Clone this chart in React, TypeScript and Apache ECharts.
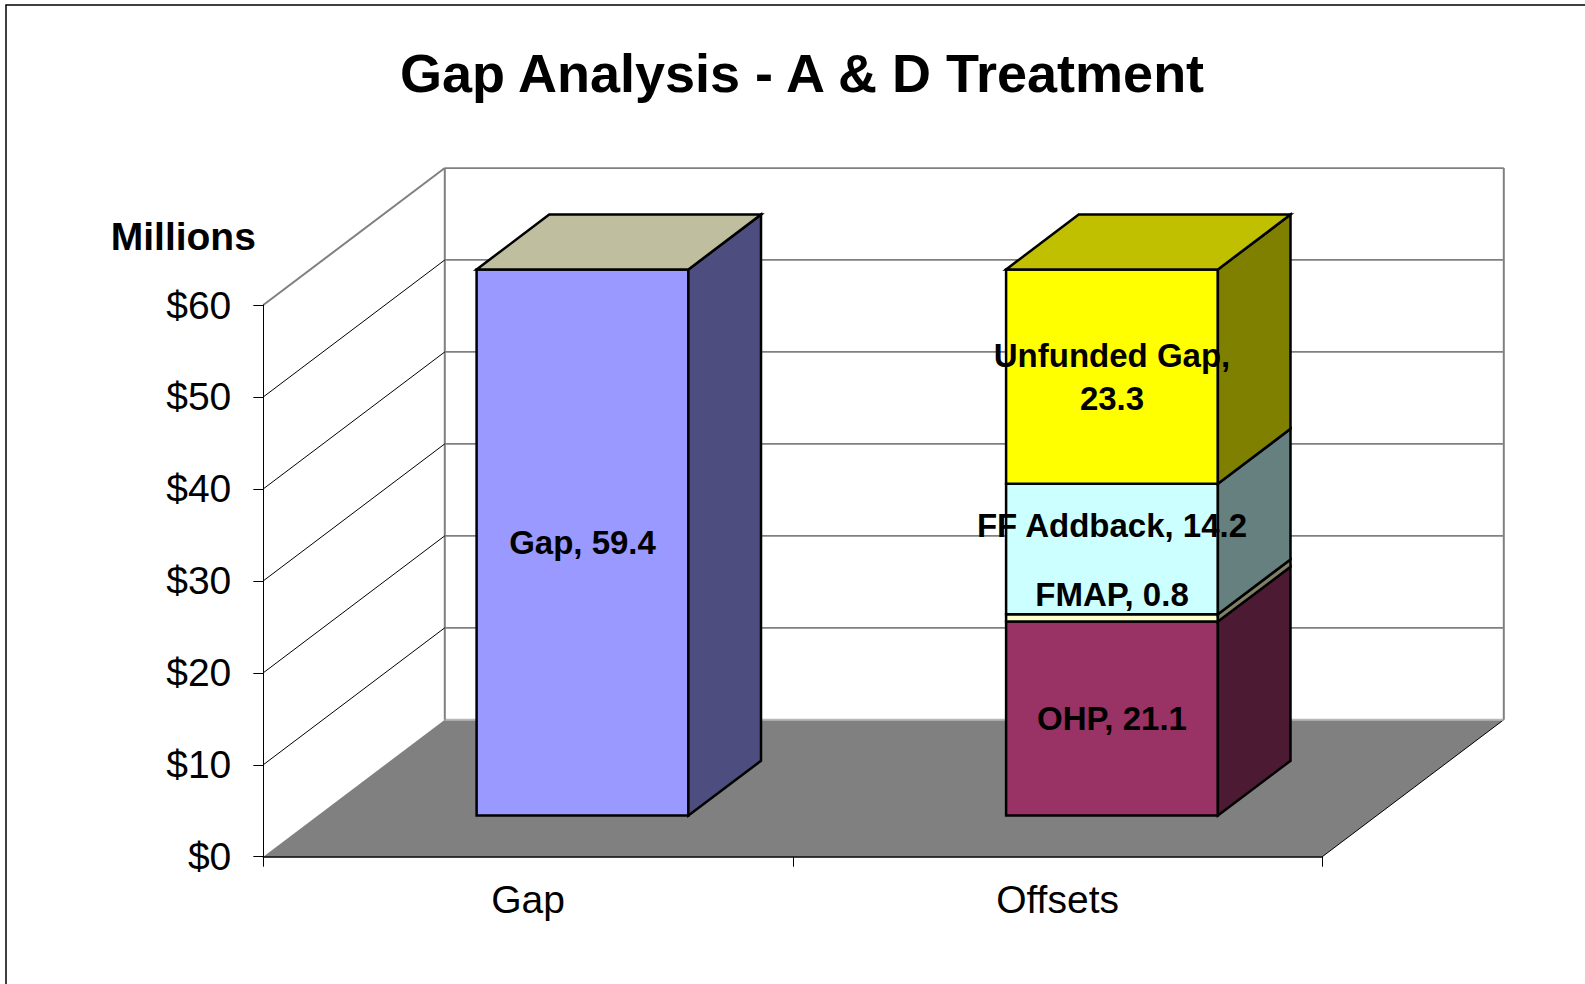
import React, { useEffect, useRef } from 'react';
import * as echarts from 'echarts';

const titleText = 'Gap Analysis - A & D Treatment';
const unitLabel = 'Millions';
const categories = ['Gap', 'Offsets'];
const yTicks = [0, 10, 20, 30, 40, 50, 60];
const segmentNames = ['Gap', 'OHP', 'FMAP', 'FF Addback', 'Unfunded Gap'];
const gapValues = [59.4, 0];
const ohpValues = [0, 21.1];
const fmapValues = [0, 0.8];
const ffAddbackValues = [0, 14.2];
const unfundedGapValues = [0, 23.3];

const segmentValues = [gapValues, ohpValues, fmapValues, ffAddbackValues, unfundedGapValues];

const segmentStyles = [
  { front: '#9999FF', side: '#4D4D80', top: '#BFBF9F', labelDy: 0, wrap: false },
  { front: '#993366', side: '#4D1A33', top: '#732650', labelDy: 0, wrap: false },
  { front: '#FFFFCC', side: '#808066', top: '#BFBF99', labelDy: -23, wrap: false },
  { front: '#CCFFFF', side: '#668080', top: '#99BFBF', labelDy: -23, wrap: false },
  { front: '#FFFF00', side: '#808000', top: '#C0C000', labelDy: 0, wrap: true },
];

const FONT = '"Liberation Sans", Arial, Helvetica, sans-serif';
const DX = 181.5;
const DY = -137;
const D0 = 0.3;
const D1 = 0.7;
const BAR_RATIO = 0.4;

const P = (x: number, y: number, d: number) => [x + d * DX, y + d * DY];

// stacked items: [categoryIndex, base, top, segmentIndex, isTop, value]
const barItems: number[][] = [];
categories.forEach((_c, ci) => {
  let base = 0;
  const items: number[][] = [];
  segmentValues.forEach((vals, si) => {
    const v = vals[ci];
    if (v > 0) {
      items.push([ci, base, base + v, si, 0, v]);
      base += v;
    }
  });
  if (items.length) items[items.length - 1][4] = 1;
  barItems.push(...items);
});

export default function App() {
  const ref = useRef<HTMLDivElement>(null);
  useEffect(() => {
    if (!ref.current) return;
    const chart = echarts.init(ref.current, undefined, { renderer: 'svg' });
    const lastTick = yTicks[yTicks.length - 1];

    const wallsSeries = {
      type: 'custom',
      z: 1,
      silent: true,
      clip: false,
      data: yTicks.map((v) => [0, v]),
      renderItem: (params: any, api: any) => {
        const v = api.value(1);
        const band = api.size([1, 0])[0];
        const p0 = api.coord([0, v]);
        const pl = api.coord([categories.length - 1, v]);
        const L = p0[0] - band / 2;
        const R = pl[0] + band / 2;
        const y = p0[1];
        const yTop = api.coord([0, lastTick])[1];
        const children: any[] = [];
        if (params.dataIndex === 0) {
          children.push({
            type: 'polygon',
            shape: { points: [[L, y], [R, y], [R + DX, y + DY], [L + DX, y + DY]] },
            style: { fill: '#808080' },
          });
          children.push({
            type: 'line',
            shape: { x1: R, y1: y, x2: R + DX, y2: y + DY },
            style: { stroke: '#000', lineWidth: 1 },
          });
          children.push({
            type: 'line',
            shape: { x1: L + DX, y1: y + DY, x2: R + DX, y2: y + DY },
            style: { stroke: '#B8B8B8', lineWidth: 2 },
          });
          children.push({
            type: 'line',
            shape: { x1: L + DX, y1: y + DY, x2: L + DX, y2: yTop + DY },
            style: { stroke: '#808080', lineWidth: 2 },
          });
          children.push({
            type: 'line',
            shape: { x1: R + DX, y1: y + DY, x2: R + DX, y2: yTop + DY },
            style: { stroke: '#808080', lineWidth: 2 },
          });
        } else {
          const isLast = v === lastTick;
          children.push({
            type: 'line',
            shape: { x1: L + DX, y1: y + DY, x2: R + DX, y2: y + DY },
            style: { stroke: '#808080', lineWidth: 1.75 },
          });
          children.push({
            type: 'line',
            shape: { x1: L, y1: y, x2: L + DX, y2: y + DY },
            style: { stroke: isLast ? '#808080' : '#000', lineWidth: isLast ? 2 : 1 },
          });
        }
        return { type: 'group', children };
      },
    };

    const barsSeries = {
      type: 'custom',
      z: 2,
      silent: true,
      clip: false,
      data: barItems,
      renderItem: (_params: any, api: any) => {
        const ci = api.value(0);
        const b = api.value(1);
        const t = api.value(2);
        const si = api.value(3);
        const isTop = api.value(4);
        const v = api.value(5);
        const pb = api.coord([ci, b]);
        const pt = api.coord([ci, t]);
        const band = api.size([1, 0])[0];
        const half = (band * BAR_RATIO) / 2;
        const xl = pb[0] - half;
        const xr = pb[0] + half;
        const yb = pb[1];
        const yt = pt[1];
        const st = segmentStyles[si];
        const line = { stroke: '#000', lineWidth: 2.5, lineJoin: 'miter' };
        const children: any[] = [
          {
            type: 'polygon',
            shape: { points: [P(xl, yb, D0), P(xr, yb, D0), P(xr, yt, D0), P(xl, yt, D0)] },
            style: { fill: st.front, ...line },
          },
          {
            type: 'polygon',
            shape: { points: [P(xr, yb, D0), P(xr, yb, D1), P(xr, yt, D1), P(xr, yt, D0)] },
            style: { fill: st.side, ...line },
          },
        ];
        if (isTop) {
          children.push({
            type: 'polygon',
            shape: { points: [P(xl, yt, D0), P(xr, yt, D0), P(xr, yt, D1), P(xl, yt, D1)] },
            style: { fill: st.top, ...line },
          });
        }
        const name = segmentNames[si];
        const val = Number(v).toFixed(1);
        const txt = st.wrap ? `${name},\n${val}` : `${name}, ${val}`;
        const c = P((xl + xr) / 2, (yb + yt) / 2, D0);
        children.push({
          type: 'text',
          z2: 100,
          x: c[0],
          y: c[1] + st.labelDy,
          style: {
            text: txt,
            align: 'center',
            verticalAlign: 'middle',
            textAlign: 'center',
            textVerticalAlign: 'middle',
            fontSize: 33,
            fontWeight: 'bold',
            fontFamily: FONT,
            lineHeight: 43,
            fill: '#000',
          },
        });
        return { type: 'group', children };
      },
    };

    const option: any = {
      animation: false,
      backgroundColor: '#ffffff',
      textStyle: { fontFamily: FONT },
      title: {
        text: titleText,
        left: 802,
        top: 73,
        padding: 0,
        textAlign: 'center',
        textVerticalAlign: 'middle',
        textStyle: { fontSize: 54, fontWeight: 'bold', color: '#000', fontFamily: FONT },
      },
      grid: { left: 263.3, top: 305, width: 1059, height: 551.7 },
      xAxis: {
        type: 'category',
        data: categories,
        z: 3,
        axisLine: { show: true, lineStyle: { color: '#000', width: 1.5 } },
        axisTick: { show: true, length: 10, lineStyle: { color: '#000', width: 1 } },
        axisLabel: { fontSize: 39, color: '#000', margin: 23, fontFamily: FONT },
        splitLine: { show: false },
      },
      yAxis: {
        type: 'value',
        min: yTicks[0],
        max: lastTick,
        interval: 10,
        z: 3,
        axisLine: { show: true, lineStyle: { color: '#000', width: 1 } },
        axisTick: { show: true, length: 10, lineStyle: { color: '#000', width: 1 } },
        axisLabel: {
          fontSize: 39,
          color: '#000',
          margin: 32,
          fontFamily: FONT,
          formatter: (val: number) => '$' + val,
        },
        splitLine: { show: false },
      },
      graphic: [
        {
          type: 'polyline',
          silent: true,
          shape: { points: [[6, 1000], [6, 5], [1600, 5]] },
          style: { stroke: '#000', lineWidth: 1.5, fill: 'none' },
        },
        {
          type: 'text',
          x: 183.3,
          y: 236.2,
          style: {
            text: unitLabel,
            align: 'center',
            verticalAlign: 'middle',
            textAlign: 'center',
            textVerticalAlign: 'middle',
            fontSize: 39,
            fontWeight: 'bold',
            fontFamily: FONT,
            fill: '#000',
          },
        },
      ],
      series: [wallsSeries, barsSeries],
    };
    chart.setOption(option);
    return () => chart.dispose();
  }, []);
  return (
    <div
      ref={ref}
      style={{ position: 'absolute', left: 0, top: 0, width: 1585, height: 984, background: '#fff' }}
    />
  );
}
